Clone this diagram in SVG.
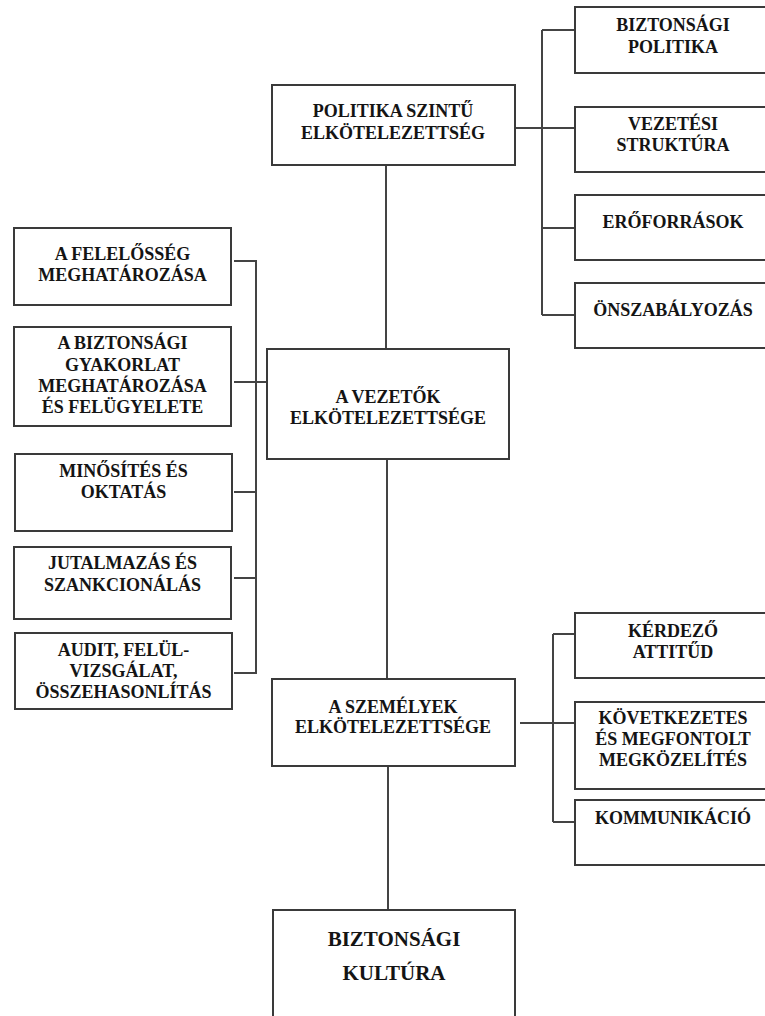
<svg xmlns="http://www.w3.org/2000/svg" width="765" height="1016" viewBox="0 0 765 1016">
<style>
rect{fill:#fff;stroke:#3a3a3a;stroke-width:2}
.big{font-size:21px}
#connectors path{fill:none;stroke:#444;stroke-width:2}
</style>
<rect x="0" y="0" width="765" height="1016" style="stroke:none;fill:#fff"/>
<g id="connectors">
<path d="M386 165V349"/>
<path d="M515 128H575M542 30V315M542 30H575M542 228H575M542 315H575"/>
<path d="M387 459V679"/>
<path d="M234 261H256V673H234M234 382H267M234 492H256M234 578H256"/>
<path d="M388 766V910"/>
<path d="M520 723H575M553 634V822M553 634H575M553 822H575"/>
</g>
<g font-family="Liberation Serif, Times New Roman, serif" font-weight="bold" font-size="18" fill="#141414" text-anchor="middle">
<g id="politika"><rect x="272" y="85" width="243" height="80"/><text x="393" y="117">POLITIKA SZINTŰ</text><text x="393" y="139">ELKÖTELEZETTSÉG</text></g>
<g id="biztpolitika"><rect x="575" y="7" width="200" height="66"/><text x="673" y="31">BIZTONSÁGI</text><text x="673" y="53">POLITIKA</text></g>
<g id="vezstrukt"><rect x="575" y="107" width="200" height="65"/><text x="673" y="130">VEZETÉSI</text><text x="673" y="151">STRUKTÚRA</text></g>
<g id="eroforrasok"><rect x="575" y="195" width="200" height="65"/><text x="673" y="228">ERŐFORRÁSOK</text></g>
<g id="onszab"><rect x="575" y="283" width="200" height="65"/><text x="673" y="316">ÖNSZABÁLYOZÁS</text></g>
<g id="felelosseg"><rect x="14" y="228" width="217" height="77"/><text x="122.5" y="260">A FELELŐSSÉG</text><text x="122.5" y="281">MEGHATÁROZÁSA</text></g>
<g id="gyakorlat"><rect x="14" y="327" width="217" height="99"/><text x="122.5" y="349">A BIZTONSÁGI</text><text x="122.5" y="371">GYAKORLAT</text><text x="122.5" y="392">MEGHATÁROZÁSA</text><text x="122.5" y="413">ÉS FELÜGYELETE</text></g>
<g id="minosites"><rect x="15" y="454" width="217" height="77"/><text x="123.5" y="477">MINŐSÍTÉS ÉS</text><text x="123.5" y="498">OKTATÁS</text></g>
<g id="jutalmazas"><rect x="14" y="547" width="217" height="72"/><text x="122.5" y="569">JUTALMAZÁS ÉS</text><text x="122.5" y="591">SZANKCIONÁLÁS</text></g>
<g id="audit"><rect x="15" y="633" width="217" height="76"/><text x="123.5" y="656">AUDIT, FELÜL-</text><text x="123.5" y="677">VIZSGÁLAT,</text><text x="123.5" y="698">ÖSSZEHASONLÍTÁS</text></g>
<g id="vezetok"><rect x="267" y="349" width="242" height="110"/><text x="388" y="403">A VEZETŐK</text><text x="388" y="424">ELKÖTELEZETTSÉGE</text></g>
<g id="szemelyek"><rect x="272" y="679" width="243" height="87"/><text x="393" y="713">A SZEMÉLYEK</text><text x="393" y="733">ELKÖTELEZETTSÉGE</text></g>
<g id="kerdezo"><rect x="575" y="613" width="200" height="65"/><text x="673" y="637">KÉRDEZŐ</text><text x="673" y="658">ATTITŰD</text></g>
<g id="kovetkezetes"><rect x="575" y="702" width="200" height="87"/><text x="673" y="724">KÖVETKEZETES</text><text x="673" y="745">ÉS MEGFONTOLT</text><text x="673" y="766">MEGKÖZELÍTÉS</text></g>
<g id="kommunikacio"><rect x="575" y="800" width="200" height="65"/><text x="673" y="824">KOMMUNIKÁCIÓ</text></g>
<g id="kultura"><rect x="273" y="910" width="242" height="130"/><text class="big" x="394" y="946">BIZTONSÁGI</text><text class="big" x="394" y="980">KULTÚRA</text></g>
</g>
</svg>
